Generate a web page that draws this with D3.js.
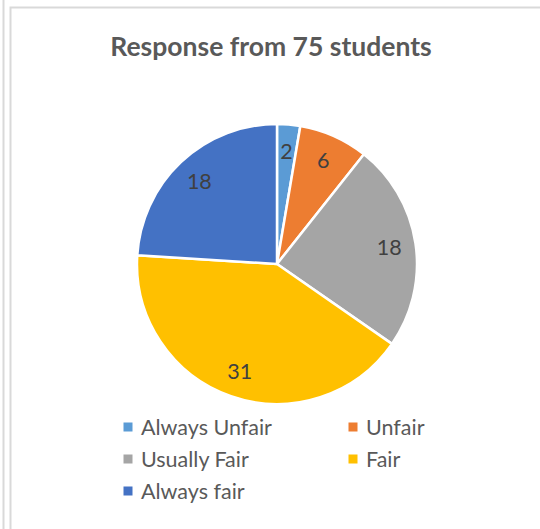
<!DOCTYPE html>
<html>
<head>
  <meta charset="utf-8">
  <title>Response from 75 students</title>
  <script src="https://d3js.org/d3.v7.min.js"></script>
  <style>
    body { margin: 0; background: #fff; }
    text { font-family: Lato, "Open Sans", sans-serif; }
    .titulo { font-size: 26.5px; font-weight: bold; fill: #595959; }
    .rotulo { font-size: 21.5px; fill: #404040; }
    .legenda { font-size: 21.5px; fill: #595959; }
  </style>
</head>
<body>
  <svg width="540" height="529"></svg>
  <script>
    var categories = ["Always Unfair", "Unfair", "Usually Fair", "Fair", "Always fair"];
    var values = [2, 6, 18, 31, 18];
    var colors = ["#5B9BD5", "#ED7D31", "#A5A5A5", "#FFC000", "#4472C4"];

    var svg = d3.select("svg"),
      width = +svg.attr("width"),
      height = +svg.attr("height");

    // bordas do print
    svg.append("line")
      .attr("x1", 3.5).attr("x2", 3.5).attr("y1", 0).attr("y2", height)
      .attr("stroke", "#d9d9d9").attr("stroke-width", 2);
    svg.append("rect")
      .attr("x", 10.5).attr("y", 7.5).attr("width", 600).attr("height", 600)
      .attr("fill", "none").attr("stroke", "#d9d9d9").attr("stroke-width", 2);

    svg.append("text")
      .attr("class", "titulo")
      .attr("x", 271).attr("y", 56)
      .attr("text-anchor", "middle")
      .text("Response from 75 students");

    var cx = 277, cy = 264, r = 140;
    var dados = categories.map((c, i) => ({ cat: c, valor: values[i], cor: colors[i] }));
    var cor = d3.scaleOrdinal().domain(categories).range(colors);

    var pie = d3.pie().value(d => d.valor).sort(null);
    var arc = d3.arc().innerRadius(0).outerRadius(r);
    var arcRotulo = d3.arc().innerRadius(r * 0.81).outerRadius(r * 0.81);

    var g = svg.append("g").attr("transform", "translate(" + cx + "," + cy + ")");
    var fatias = pie(dados);

    g.selectAll("path")
      .data(fatias)
      .enter()
      .append("path")
        .attr("d", arc)
        .attr("fill", d => cor(d.data.cat))
        .attr("stroke", "#fff")
        .attr("stroke-width", 2.5)
        .attr("stroke-linejoin", "round");

    g.selectAll("text")
      .data(fatias)
      .enter()
      .append("text")
        .attr("class", "rotulo")
        .attr("transform", d => "translate(" + arcRotulo.centroid(d) + ")")
        .attr("text-anchor", "middle")
        .attr("dy", ".35em")
        .text(d => d.data.valor);

    // legenda em duas colunas
    var leg = svg.append("g").selectAll("g")
      .data(dados)
      .enter()
      .append("g")
        .attr("transform", (d, i) => "translate(" + (i % 2 ? 353 : 128) + "," + (427 + Math.floor(i / 2) * 32) + ")");
    leg.append("rect")
      .attr("x", -4.5).attr("y", -4.5).attr("width", 9).attr("height", 9)
      .attr("fill", d => d.cor);
    leg.append("text")
      .attr("class", "legenda")
      .attr("x", 13).attr("dy", ".35em")
      .text(d => d.cat);
  </script>
</body>
</html>
